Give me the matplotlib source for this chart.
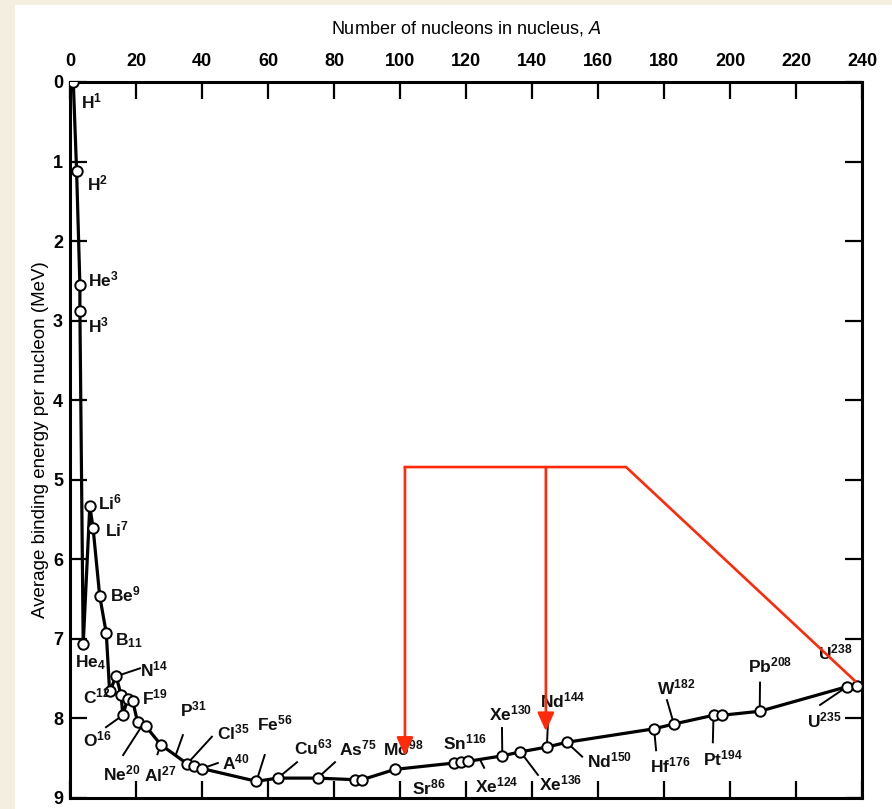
import numpy as np
import matplotlib
matplotlib.use("Agg")
import matplotlib.pyplot as plt
from matplotlib.patches import Rectangle

# binding energy per nucleon vs mass number
mass_number = [1, 2, 3, 3, 4, 6, 7, 9, 11, 12, 14, 15.5, 16, 17.5, 19, 20.5, 23,
               27.5, 35.5, 37.5, 40, 56.5, 63, 75, 86.5, 88.5, 98.5, 116.5, 118.5,
               120.5, 131, 136.5, 144.5, 150.5, 177, 183, 195, 197.5, 209, 235.5, 238.5]
binding_energy = [0.0, 1.12, 2.55, 2.88, 7.07, 5.33, 5.61, 6.46, 6.93, 7.66, 7.47, 7.71,
                  7.96, 7.75, 7.78, 8.05, 8.10, 8.33, 8.57, 8.60, 8.63, 8.79, 8.75, 8.75,
                  8.77, 8.77, 8.64, 8.56, 8.55, 8.54, 8.47, 8.42, 8.36, 8.30, 8.13, 8.07,
                  7.96, 7.96, 7.91, 7.60, 7.59]

# isotope labels: text, position, and leader line (start point -> A on curve)
label_text = [r"H$^1$", r"H$^2$", r"He$^3$", r"H$^3$", r"He$_4$", r"Li$^6$", r"Li$^7$",
              r"Be$^9$", r"B$_{11}$", r"C$^{12}$", r"N$^{14}$", r"F$^{19}$", r"O$^{16}$",
              r"Ne$^{20}$", r"Al$^{27}$", r"P$^{31}$", r"Cl$^{35}$", r"A$^{40}$",
              r"Fe$^{56}$", r"Cu$^{63}$", r"As$^{75}$", r"Mo$^{98}$", r"Sr$^{86}$",
              r"Sn$^{116}$", r"Xe$^{124}$", r"Xe$^{130}$", r"Xe$^{136}$", r"Nd$^{144}$",
              r"Nd$^{150}$", r"Hf$^{176}$", r"W$^{182}$", r"Pt$^{194}$", r"Pb$^{208}$",
              r"U$^{238}$", r"U$^{235}$"]
label_a = [3.3, 5.2, 5.5, 5.5, 1.5, 8.5, 10.6, 12.1, 13.6, 3.9, 21.2, 21.8, 3.9,
           10.0, 22.4, 33.3, 44.5, 46.0, 56.7, 68.0, 81.5, 94.8, 103.6, 113.0, 122.7,
           127.0, 142.0, 142.4, 156.7, 175.8, 177.9, 191.8, 205.5, 226.7, 223.3]
label_b = [0.25, 1.27, 2.48, 3.06, 7.30, 5.28, 5.62, 6.44, 7.02, 7.72, 7.39, 7.74, 8.27,
           8.69, 8.71, 7.89, 8.17, 8.55, 8.06, 8.36, 8.38, 8.38, 8.87, 8.30, 8.84,
           7.94, 8.82, 7.77, 8.53, 8.59, 7.61, 8.50, 7.33, 7.17, 8.02]

leader_a0 = [21.2, 10.9, 16.1, 26.5, 34.2, 43.0, 44.8, 59.0, 68.8, 80.3, 125.5, 130.9,
             141.8, 144.8, 155.2, 177.6, 180.9, 194.8, 209.1, 227.3]
leader_b0 = [7.37, 8.11, 8.46, 8.45, 8.21, 8.23, 8.56, 8.46, 8.55, 8.55, 8.62, 8.12,
             8.71, 8.08, 8.48, 8.40, 7.77, 8.30, 7.55, 7.83]
leader_to_a = [14, 16, 22, 27.5, 32, 35.5, 40, 56.5, 63, 75, 124.2, 131, 136.5, 144.5,
               150.5, 177, 183, 195, 209, 235.5]

# fission sketch (red): U238 splits into two fragments
fission_top = 4.84
fission_start = (237.9, 7.53)
fission_corner = 168.5
fragment_a = [101.5, 144.2]
fragment_b = [8.47, 8.16]

RED = "#ff2a0a"

plt.rcParams["font.family"] = ["Liberation Sans", "DejaVu Sans"]
plt.rcParams["mathtext.default"] = "regular"

fig = plt.figure(figsize=(8.92, 8.09), dpi=100)
fig.patch.set_facecolor("#f4eee0")
fig.patches.append(Rectangle((15 / 892, 0), 1, 1 - 5 / 809, transform=fig.transFigure,
                             facecolor="white", edgecolor="none", zorder=-5))

ax = fig.add_axes([70 / 892, 1 - 798 / 809, (862 - 70) / 892, (798 - 82) / 809])
ax.set_facecolor("white")

ax.plot(mass_number, binding_energy, color="black", lw=2.3, marker="o", ms=7.5,
        mfc="white", mec="black", mew=1.4, zorder=3)

for txt, a, b in zip(label_text, label_a, label_b):
    ax.text(a, b, txt, fontsize=12.5, fontweight="bold", ha="left", va="center",
            color="#111111", zorder=4)

order = np.argsort(mass_number, kind="stable")
curve_a = np.array(mass_number)[order]
curve_b = np.array(binding_energy)[order]
for a0, b0, a1 in zip(leader_a0, leader_b0, leader_to_a):
    b1 = np.interp(a1, curve_a, curve_b)
    ax.plot([a0, a1], [b0, b1], color="black", lw=1.4, zorder=2)

# red fission lines
ax.plot([fission_start[0], fission_corner, fragment_a[0]],
        [fission_start[1], fission_top, fission_top], color=RED, lw=1.9, zorder=5,
        solid_joinstyle="miter")
for a, b in zip(fragment_a, fragment_b):
    ax.annotate("", xy=(a, b), xytext=(a, fission_top),
                arrowprops=dict(arrowstyle="-|>,head_length=0.55,head_width=0.25",
                                color=RED, lw=1.9, shrinkA=0, shrinkB=0,
                                mutation_scale=20), zorder=5)

ax.set_xlim(0, 240)
ax.set_ylim(9, 0)
ax.set_xticks(np.arange(0, 241, 20))
ax.set_yticks(np.arange(0, 10, 1))

ax.xaxis.tick_top()
ax.xaxis.set_label_position("top")
ax.tick_params(axis="both", direction="in", length=12, width=1.6, top=True,
               bottom=True, left=True, right=True, labelsize=13)
ax.tick_params(axis="x", pad=9)
ax.tick_params(axis="y", pad=5)
for lab in ax.get_xticklabels() + ax.get_yticklabels():
    lab.set_fontweight("bold")
for sp in ax.spines.values():
    sp.set_linewidth(2.2)

ax.set_xlabel(r"Number of nucleons in nucleus, $\mathit{A}$", fontsize=13, labelpad=14)
ax.set_ylabel("Average binding energy per nucleon (MeV)", fontsize=13.5, labelpad=3)

fig.savefig("out.png", dpi=100)
